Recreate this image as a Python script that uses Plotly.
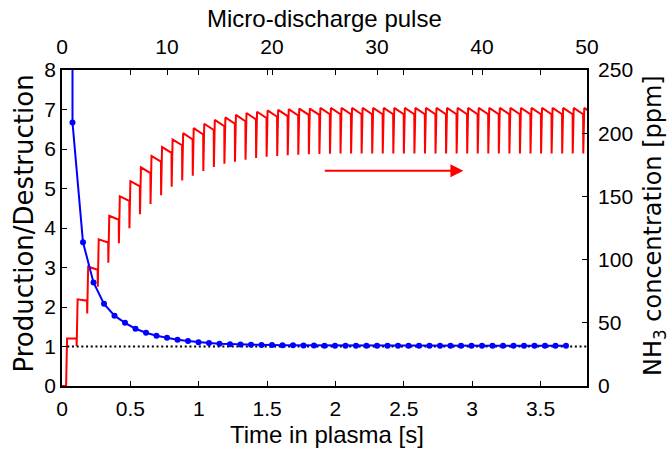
import plotly.graph_objects as go

# ---------------- data ----------------
# Production/Destruction ratio, one value per micro-discharge pulse (pulse 1..48)
ratio_pulse = list(range(1, 49))
ratio_values = [6.67, 3.64, 2.62, 2.08, 1.78, 1.60, 1.45, 1.35, 1.27, 1.22,
                1.17, 1.14, 1.11, 1.09, 1.07, 1.06, 1.05, 1.045, 1.04, 1.035,
                1.03, 1.03, 1.025, 1.025, 1.02, 1.02, 1.02, 1.02, 1.02, 1.02,
                1.02, 1.02, 1.02, 1.02, 1.02, 1.02, 1.02, 1.02, 1.02, 1.02,
                1.02, 1.02, 1.02, 1.02, 1.02, 1.02, 1.02, 1.02]
ratio_first_pulse_start = 12.0   # ratio just before pulse 1 (off scale)

# NH3 concentration [ppm] per red pulse (50 pulses)
red_pulse_start = 0.029    # s, time of first red pulse
red_pulse_period = 0.0772  # s
red_dip = [0.0, 31.6, 57.4, 78.5, 97.6, 112.9, 124.8, 135.8, 144.0, 151.0,
           157.7, 162.5, 166.4, 170.1, 173.3, 175.8, 177.5, 179.0, 180.3, 181.3,
           182.0, 182.6, 183.0, 183.4, 183.6, 183.8, 184.0, 184.0, 184.0, 184.0,
           184.0, 184.0, 184.0, 184.0, 184.0, 184.0, 184.0, 184.0, 184.0, 184.0,
           184.0, 184.0, 184.0, 184.0, 184.0, 184.0, 184.0, 184.0, 184.0, 184.0]
red_peak = [37.5, 68.6, 94.4, 116.0, 134.7, 150.0, 162.0, 173.0, 182.0, 189.0,
            195.0, 200.0, 204.0, 207.5, 210.5, 212.5, 214.5, 216.0, 217.0, 218.0,
            218.5, 219.0, 219.5, 219.5, 220.0, 220.0, 220.0, 220.0, 220.0, 220.0,
            220.0, 220.0, 220.0, 220.0, 220.0, 220.0, 220.0, 220.0, 220.0, 220.0,
            220.0, 220.0, 220.0, 220.0, 220.0, 220.0, 220.0, 220.0, 220.0, 220.0]
red_end = [37.5, 67.5, 92.0, 113.5, 131.5, 146.5, 158.0, 168.5, 177.5, 184.5,
           190.5, 195.0, 199.0, 202.5, 205.5, 207.5, 209.5, 211.0, 212.0, 213.0,
           213.5, 214.0, 214.5, 214.5, 215.0, 215.0, 215.0, 215.0, 215.0, 215.0,
           215.0, 215.0, 215.0, 215.0, 215.0, 215.0, 215.0, 215.0, 215.0, 215.0,
           215.0, 215.0, 215.0, 215.0, 215.0, 215.0, 215.0, 215.0, 215.0, 215.0]

time_ticks = [0, 0.5, 1, 1.5, 2, 2.5, 3, 3.5]
time_tick_labels = ["0", "0.5", "1", "1.5", "2", "2.5", "3", "3.5"]
pulse_ticks = [0, 10, 20, 30, 40, 50]
ratio_ticks = [0, 1, 2, 3, 4, 5, 6, 7, 8]
ppm_ticks = [0, 50, 100, 150, 200, 250]
unity_line_pulses = [0.5, 50]
unity_line_values = [1, 1]
arrow_from_t, arrow_to_t, arrow_ppm = 1.911, 2.936, 170.3

# ---------------- build red sawtooth ----------------
red_x = [0.0]
red_y = [0.0]
for k in range(len(red_peak)):
    t = red_pulse_start + k * red_pulse_period
    red_x += [t, t + 0.001, t + 0.008, t + red_pulse_period]
    red_y += [red_end[k - 1] if k > 0 else 0.0, red_dip[k], red_peak[k], red_end[k]]

FONT = "Liberation Sans, Arial, sans-serif"
W, H = 672, 450
L, R, T, B = 62, 85, 70, 64
PW, PH = W - L - R, H - T - B


def px(xp):
    return (xp - L) / PW


def py(yp):
    return (H - B - yp) / PH


fig = go.Figure()
fig.add_trace(go.Scatter(x=red_x, y=red_y, mode="lines", xaxis="x", yaxis="y",
                         line=dict(color="#ff0000", width=2), showlegend=False,
                         hoverinfo="skip"))
fig.add_trace(go.Scatter(x=unity_line_pulses, y=unity_line_values, mode="lines",
                         xaxis="x2", yaxis="y2",
                         line=dict(color="black", width=2, dash="2px,2.7px"),
                         showlegend=False, hoverinfo="skip"))
fig.add_trace(go.Scatter(x=[ratio_pulse[0]] + ratio_pulse,
                         y=[ratio_first_pulse_start] + ratio_values,
                         mode="lines+markers", xaxis="x2", yaxis="y2",
                         line=dict(color="#0000ff", width=2),
                         marker=dict(color="#0000ff", size=6),
                         showlegend=False, hoverinfo="skip"))

axis_common = dict(showline=True, linecolor="black", linewidth=1.8,
                   ticks="inside", ticklen=5, tickwidth=1.2, tickcolor="black",
                   showgrid=False, zeroline=False,
                   tickfont=dict(family=FONT, size=21, color="black"),
                   automargin=False)

fig.update_layout(
    width=W, height=H,
    margin=dict(l=L, r=R, t=T, b=B),
    paper_bgcolor="white", plot_bgcolor="white",
    xaxis=dict(range=[0, 3.84], tickvals=time_ticks, ticktext=time_tick_labels,
               anchor="y", side="bottom", mirror="ticks", ticklabelstandoff=3,
               **axis_common),
    xaxis2=dict(range=[0, 50], tickvals=pulse_ticks, overlaying="x", anchor="y",
                side="top", ticklabelstandoff=6,
                **axis_common),
    yaxis=dict(range=[0, 250], tickvals=ppm_ticks, anchor="x", side="right",
               ticklabelstandoff=5,
               **axis_common),
    yaxis2=dict(range=[0, 8], tickvals=ratio_ticks, overlaying="y", anchor="x",
                side="left",
                **axis_common),
)

title_font = dict(family=FONT, size=24, color="black")
fig.add_annotation(text="Time in plasma [s]", xref="paper", yref="paper",
                   x=px(326.5), y=py(434), xanchor="center", yanchor="middle",
                   showarrow=False, font=title_font)
fig.add_annotation(text="Micro-discharge pulse", xref="paper", yref="paper",
                   x=px(324.5), y=py(18), xanchor="center", yanchor="middle",
                   showarrow=False, font=title_font)
fig.add_annotation(text="Production/Destruction", xref="paper", yref="paper",
                   x=px(23.5), y=py(224), xanchor="center", yanchor="middle",
                   textangle=-90, showarrow=False,
                   font=dict(family="DejaVu Sans", size=26, color="black"))
fig.add_annotation(text="NH<sub>3</sub> concentration [ppm]", xref="paper", yref="paper",
                   x=px(654), y=py(226), xanchor="center", yanchor="middle",
                   textangle=-90, showarrow=False,
                   font=dict(family="DejaVu Sans", size=24, color="black"))

fig.add_annotation(x=arrow_to_t, y=arrow_ppm, ax=arrow_from_t, ay=arrow_ppm,
                   xref="x", yref="y", axref="x", ayref="y",
                   showarrow=True, arrowhead=2, arrowsize=1.3, arrowwidth=2,
                   arrowcolor="#ff0000", text="")

fig.write_html("out.html", config={"displayModeBar": False},
               post_script="document.body.style.margin='0px';")
